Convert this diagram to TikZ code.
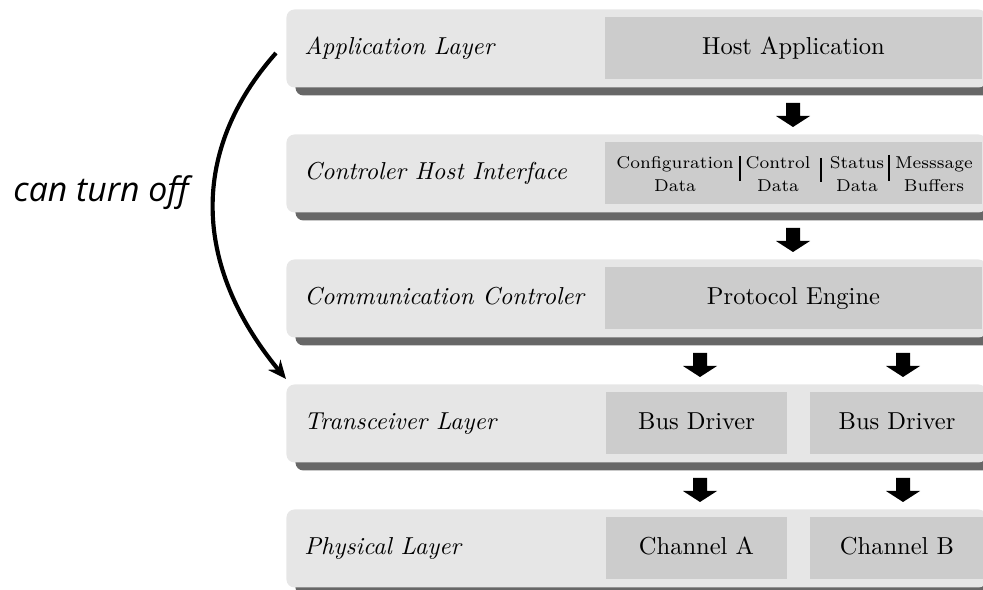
\documentclass[tikz,border=0pt]{standalone}
\usepackage{fontspec}
\newfontfamily\notefont{Open Sans}
\usetikzlibrary{shadows,arrows.meta}
\def\u{0.408pt}
\definecolor{layerfill}{HTML}{E6E6E6}
\definecolor{blockfill}{HTML}{CCCCCC}
\definecolor{layershadow}{HTML}{676767}
\tikzset{
  layer/.style={rectangle, rounded corners=8*\u, fill=layerfill, inner sep=0pt,
    anchor=north west, minimum width=700*\u, minimum height=78*\u,
    general shadow={fill=layershadow, shadow xshift=9*\u, shadow yshift=-8*\u}},
  block/.style={rectangle, fill=blockfill, inner sep=0pt, anchor=north west,
    minimum height=62*\u, text height=7pt, text depth=2pt},
  wide/.style={block, minimum width=376*\u},
  half/.style={block, minimum width=180*\u},
  halfb/.style={block, minimum width=175*\u},
  layername/.style={anchor=west, font=\itshape, inner sep=0pt, text height=7pt, text depth=2pt},
  cell/.style={align=center, font=\fontsize{7pt}{9.4pt}\selectfont, inner sep=0pt},
  blockarrow/.pic={\fill[black] (-7,0) -- (7,0) -- (7,13) -- (17,13) -- (0,24)
    -- (-17,13) -- (-7,13) -- cycle;},
}
\begin{document}
\begin{tikzpicture}[x=\u, y=-\u]
\useasboundingbox (0,0) rectangle (983,590);
\clip (0,0) rectangle (983,590);

% layer plates
\node[layer] (L1) at (286,9) {};
\node[layer] (L2) at (286,134) {};
\node[layer] (L3) at (286,259) {};
\node[layer] (L4) at (286,384) {};
\node[layer] (L5) at (286,509) {};

% layer names
\node[layername] (n1) at (304,48) {Application Layer};
\node[layername] (n2) at (304,173) {Controler Host Interface};
\node[layername] (n3) at (304,298) {Communication Controler};
\node[layername] (n4) at (304,423) {Transceiver Layer};
\node[layername] (n5) at (304,548) {Physical Layer};

% blocks inside the layers
\node[wide] (host) at (605,17) {Host Application};
\node[wide] (chi) at (605,142) {};
\node[wide] (pe) at (605,267) {Protocol Engine};
\node[half] (bdA) at (606,392) {Bus Driver};
\node[halfb] (bdB) at (809,392) {Bus Driver};
\node[half] (chA) at (606,517) {Channel A};
\node[halfb] (chB) at (809,517) {Channel B};

% controller host interface buffers
\node[cell] (cfg) at (675,174) {Configuration\\Data};
\node[cell] (ctl) at (778,174) {Control\\Data};
\node[cell] (sts) at (857,174) {Status\\Data};
\node[cell] (msg) at (934,174) {Messsage\\Buffers};
\draw[line width=0.45pt] (740,156) -- (740,181);
\draw[line width=0.45pt] (821,158) -- (821,182);
\draw[line width=0.45pt] (889,155) -- (889,181);

% data flow between layers
\pic at (793,103) {blockarrow};
\pic at (793,228) {blockarrow};
\pic at (700,353) {blockarrow};
\pic at (903,353) {blockarrow};
\pic at (700,478) {blockarrow};
\pic at (903,478) {blockarrow};

% bypass of the upper layers
\coordinate (bypassA) at (276,53);
\coordinate (bypassB) at (286,379);
\draw[line width=1.7pt, -{Stealth[length=7.5pt, width=6.5pt]}]
  (bypassA) .. controls (190,150) and (192,265) .. (bypassB);
\node[anchor=base west, inner sep=0pt, font=\notefont\itshape\fontsize{13.8pt}{16pt}\selectfont]
  (note) at (13,202) {can turn off};
\end{tikzpicture}
\end{document}
